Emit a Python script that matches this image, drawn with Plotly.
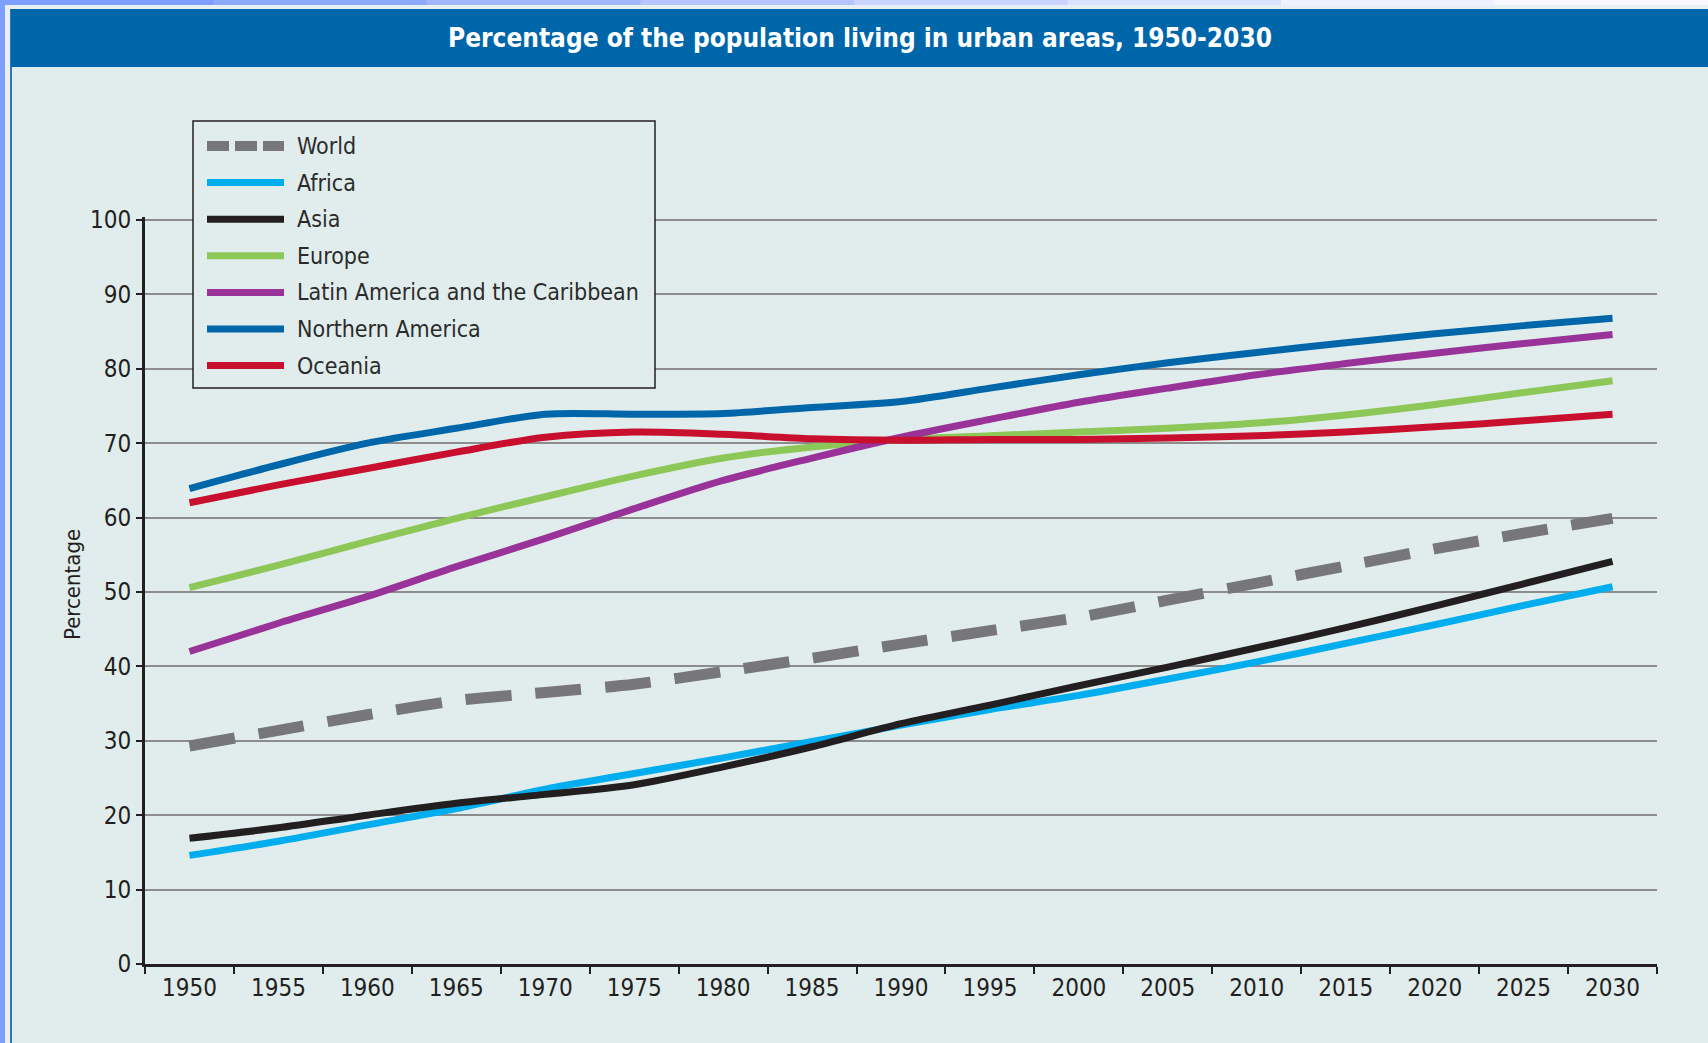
import plotly.graph_objects as go

years = ['1950', '1955', '1960', '1965', '1970', '1975', '1980', '1985', '1990',
         '1995', '2000', '2005', '2010', '2015', '2020', '2025', '2030']

world = [29.3, 31.4, 33.5, 35.4, 36.5, 37.6, 39.3, 41.1, 43.0, 44.8, 46.6, 48.9, 51.2, 53.5, 55.8, 57.9, 59.9]
africa = [14.6, 16.5, 18.7, 20.9, 23.5, 25.6, 27.7, 29.9, 32.1, 34.2, 36.1, 38.3, 40.6, 43.1, 45.6, 48.2, 50.7]
asia = [16.9, 18.3, 20.0, 21.6, 22.8, 24.1, 26.5, 29.2, 32.3, 34.8, 37.4, 39.9, 42.5, 45.2, 48.1, 51.1, 54.1]
europe = [50.6, 53.6, 56.8, 59.9, 62.8, 65.6, 68.0, 69.5, 70.5, 71.0, 71.5, 72.0, 72.7, 73.8, 75.2, 76.8, 78.4]
latin_america = [42.0, 45.8, 49.4, 53.4, 57.2, 61.2, 65.0, 68.0, 70.8, 73.2, 75.5, 77.4, 79.2, 80.7, 82.1, 83.4, 84.6]
northern_america = [63.9, 67.1, 70.0, 72.0, 73.9, 73.9, 74.0, 74.8, 75.6, 77.4, 79.2, 80.8, 82.2, 83.5, 84.7, 85.8, 86.8]
oceania = [62.0, 64.4, 66.6, 68.8, 70.8, 71.5, 71.2, 70.6, 70.4, 70.5, 70.5, 70.7, 71.0, 71.5, 72.2, 73.0, 73.9]

series_names = ['World', 'Africa', 'Asia', 'Europe', 'Latin America and the Caribbean',
                'Northern America', 'Oceania']
series_values = [world, africa, asia, europe, latin_america, northern_america, oceania]
series_colors = ['#77777B', '#00AEEF', '#231F20', '#8DC757', '#993399', '#0066AA', '#C8102E']

W, H = 1708, 1043
L, R, T, B = 145, 1657, 217, 964   # plot area in pixels
BG = '#E1EDEC'
FONT = 'DejaVu Sans Condensed, Liberation Sans Narrow, Liberation Sans, sans-serif'


def px(x):
    return (x - L) / (R - L)


def py(y):
    return (B - y) / (B - T)


fig = go.Figure()

for name, vals, color in zip(series_names, series_values, series_colors):
    is_world = name == 'World'
    fig.add_trace(go.Scatter(
        x=years,
        y=vals,
        mode='lines',
        name=name,
        line=dict(color=color, width=11 if is_world else 7,
                  dash='46px,24px' if is_world else 'solid',
                  shape='spline', smoothing=0.8),
        showlegend=False
    ))

shapes = []

# frame decoration
top_cols = ['#7F9FFF', '#8EAAFF', '#A0B6FF', '#B4C5FF', '#C8D4FF', '#DCE3FF', '#EEF1FF', '#F8F8FF']
seg = W / len(top_cols)
for i, c in enumerate(top_cols):
    shapes.append(dict(type='rect', xref='paper', yref='paper', layer='below',
                       x0=px(i * seg), x1=px((i + 1) * seg + 1), y0=py(0), y1=py(5),
                       fillcolor=c, line=dict(width=0)))
shapes.append(dict(type='rect', xref='paper', yref='paper', layer='below',
                   x0=px(0), x1=px(5), y0=py(0), y1=py(H),
                   fillcolor='#7F9FFF', line=dict(width=0)))
shapes.append(dict(type='rect', xref='paper', yref='paper', layer='below',
                   x0=px(5), x1=px(10), y0=py(5), y1=py(H),
                   fillcolor='#E9F0F4', line=dict(width=0)))
shapes.append(dict(type='rect', xref='paper', yref='paper', layer='below',
                   x0=px(10), x1=px(W), y0=py(5), y1=py(9),
                   fillcolor='#E9F0F4', line=dict(width=0)))
shapes.append(dict(type='line', xref='paper', yref='paper', layer='below',
                   x0=px(11), x1=px(11), y0=py(9), y1=py(H),
                   line=dict(color='#2F78B8', width=2)))
# title bar
shapes.append(dict(type='rect', xref='paper', yref='paper', layer='below',
                   x0=px(11), x1=px(W), y0=py(67), y1=py(9),
                   fillcolor='#0066AA', line=dict(width=0)))

# legend box
shapes.append(dict(type='rect', xref='paper', yref='paper',
                   x0=px(193), x1=px(655), y0=py(388), y1=py(121),
                   fillcolor=BG, line=dict(color='#231F20', width=1.5)))

annotations = []
for i, (name, color) in enumerate(zip(series_names, series_colors)):
    yc = 146 + i * 36.6
    is_world = name == 'World'
    shapes.append(dict(type='line', xref='paper', yref='paper',
                       x0=px(207), x1=px(284), y0=py(yc), y1=py(yc),
                       line=dict(color=color, width=10 if is_world else 7,
                                 dash='22px,6px' if is_world else 'solid')))
    annotations.append(dict(xref='paper', yref='paper', x=px(295), y=py(yc),
                            xanchor='left', yanchor='middle', showarrow=False,
                            text=name, font=dict(family=FONT, size=23, color='#2B2B2B')))

annotations.append(dict(xref='paper', yref='paper', x=px(860), y=py(38),
                        xanchor='center', yanchor='middle', showarrow=False,
                        text='Percentage of the population living in urban areas, 1950-2030',
                        font=dict(family=FONT, size=26, color='white', weight='bold')))
annotations.append(dict(xref='paper', yref='paper', x=px(72), y=py(585),
                        xanchor='center', yanchor='middle', showarrow=False, textangle=-90,
                        text='Percentage', font=dict(family=FONT, size=22, color='#231F20')))

fig.update_layout(
    width=W,
    height=H,
    margin=dict(l=L, r=W - R, t=T, b=H - B, pad=0),
    paper_bgcolor=BG,
    plot_bgcolor=BG,
    showlegend=False,
    shapes=shapes,
    annotations=annotations,
    xaxis=dict(
        type='category',
        range=[-0.5, len(years) - 0.5],
        tickson='boundaries',
        ticks='outside',
        ticklen=7,
        tickwidth=1.5,
        tickcolor='#231F20',
        showline=True,
        linecolor='#231F20',
        linewidth=3,
        showgrid=False,
        tickfont=dict(family=FONT, size=24, color='#231F20'),
        fixedrange=True
    ),
    yaxis=dict(
        range=[0, 100.4],
        tickvals=list(range(0, 101, 10)),
        ticks='outside',
        ticklen=6,
        tickwidth=1.5,
        tickcolor='#231F20',
        showline=True,
        linecolor='#231F20',
        linewidth=3,
        showgrid=True,
        gridcolor='#8C8C8C',
        gridwidth=1.5,
        zeroline=False,
        tickfont=dict(family=FONT, size=24, color='#231F20'),
        fixedrange=True
    )
)

fig.write_html("out.html", config={'displayModeBar': False},
               post_script="document.body.style.margin='0';")
